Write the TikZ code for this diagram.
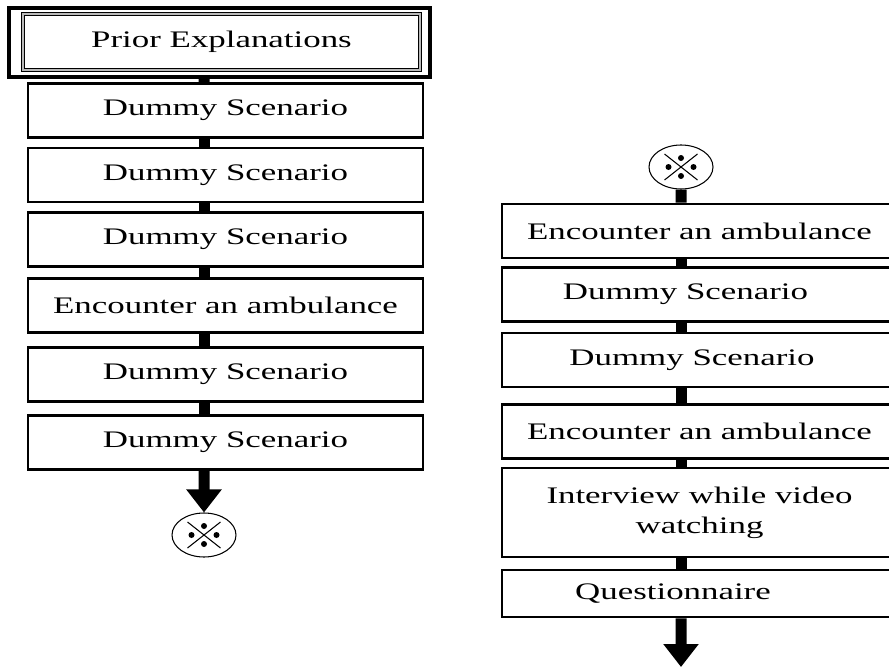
\documentclass[tikz,border=0pt]{standalone}
\usepackage{fontspec}
\setmainfont{Liberation Serif}[FakeStretch=1.47]
\usetikzlibrary{shapes.geometric, arrows.meta, positioning}

\begin{document}
\begin{tikzpicture}[
    box/.style={rectangle, draw, line width=1.6pt, minimum width=7.9cm, minimum height=1.08cm, align=center, fill=white, inner sep=0pt, font=\fontsize{13.5}{17}\selectfont},
    outerbox/.style={rectangle, draw, line width=1.8pt, minimum width=8.42cm, minimum height=1.38cm},
    innerbox/.style={box, draw=black, line width=0.6pt, double=gray!55, double distance=0.8pt, minimum width=7.94cm, minimum height=1.12cm},
    link/.style={line width=0.22cm},
    arrow/.style={line width=0.22cm, -{Triangle[width=0.68cm,length=0.46cm]}},
    joint/.style={ellipse, draw, line width=0.6pt, minimum width=1.28cm, minimum height=0.88cm, inner sep=0pt},
    cross/.style={line width=0.6pt}
]
\clip (0,0) rectangle (17.78,-13.34);

% ===== LEFT COLUMN =====
\node[outerbox] (prior_frame) at (4.39,-0.85) {};
\node[innerbox] (prior) at (4.43,-0.84) {Prior Explanations};
\node[box] (dummy1) at (4.51,-2.21) {Dummy Scenario};
\node[box] (dummy2) at (4.51,-3.50) {Dummy Scenario};
\node[box] (dummy3) at (4.51,-4.79) {Dummy Scenario};
\node[box] (amb1) at (4.51,-6.11) {Encounter an ambulance};
\node[box] (dummy4) at (4.51,-7.49) {Dummy Scenario};
\node[box] (dummy5) at (4.51,-8.85) {Dummy Scenario};
\node[joint] (mark_a) at (4.08,-10.70) {};

% ===== RIGHT COLUMN =====
\node[joint] (mark_b) at (13.62,-3.34) {};
\node[box] (amb2) at (13.99,-4.62) {Encounter an ambulance};
\node[box] (dummy6) at (13.99,-5.89) {Dummy Scenario\hspace*{0.56cm}};
\node[box] (dummy7) at (13.99,-7.20) {Dummy Scenario\hspace*{0.3cm}};
\node[box] (amb3) at (13.99,-8.63) {Encounter an ambulance};
\node[box, minimum height=1.78cm] (interview) at (13.99,-10.25) {Interview while video\\watching};
\node[box, minimum height=0.94cm] (quest) at (13.99,-11.87) {Questionnaire\hspace*{1.06cm}};
\coordinate (end_b) at (13.62,-13.34);

% ===== CONNECTOR MARKS =====
\draw[cross] ([shift={(-0.33,-0.26)}]mark_a.center) -- ([shift={(0.33,0.26)}]mark_a.center);
\draw[cross] ([shift={(-0.33,0.26)}]mark_a.center) -- ([shift={(0.33,-0.26)}]mark_a.center);
\fill ([yshift=0.18cm]mark_a.center) circle (0.06) ([yshift=-0.18cm]mark_a.center) circle (0.06)
     ([xshift=-0.25cm]mark_a.center) circle (0.06) ([xshift=0.25cm]mark_a.center) circle (0.06);
\draw[cross] ([shift={(-0.33,-0.26)}]mark_b.center) -- ([shift={(0.33,0.26)}]mark_b.center);
\draw[cross] ([shift={(-0.33,0.26)}]mark_b.center) -- ([shift={(0.33,-0.26)}]mark_b.center);
\fill ([yshift=0.18cm]mark_b.center) circle (0.06) ([yshift=-0.18cm]mark_b.center) circle (0.06)
     ([xshift=-0.25cm]mark_b.center) circle (0.06) ([xshift=0.25cm]mark_b.center) circle (0.06);

% ===== LINKS: left column =====
\draw[link] ([xshift=-0.31cm]prior_frame.south) -- ([xshift=-0.43cm]dummy1.north);
\draw[link] ([xshift=-0.43cm]dummy1.south) -- ([xshift=-0.43cm]dummy2.north);
\draw[link] ([xshift=-0.43cm]dummy2.south) -- ([xshift=-0.43cm]dummy3.north);
\draw[link] ([xshift=-0.43cm]dummy3.south) -- ([xshift=-0.43cm]amb1.north);
\draw[link] ([xshift=-0.43cm]amb1.south) -- ([xshift=-0.43cm]dummy4.north);
\draw[link] ([xshift=-0.43cm]dummy4.south) -- ([xshift=-0.43cm]dummy5.north);
\draw[arrow] ([xshift=-0.43cm]dummy5.south) -- (mark_a.north);

% ===== LINKS: right column =====
\draw[link] (mark_b.south) -- ([xshift=-0.37cm]amb2.north);
\draw[link] ([xshift=-0.37cm]amb2.south) -- ([xshift=-0.37cm]dummy6.north);
\draw[link] ([xshift=-0.37cm]dummy6.south) -- ([xshift=-0.37cm]dummy7.north);
\draw[link] ([xshift=-0.37cm]dummy7.south) -- ([xshift=-0.37cm]amb3.north);
\draw[link] ([xshift=-0.37cm]amb3.south) -- ([xshift=-0.37cm]interview.north);
\draw[link] ([xshift=-0.37cm]interview.south) -- ([xshift=-0.37cm]quest.north);
\draw[arrow] ([xshift=-0.37cm]quest.south) -- (end_b);

\end{tikzpicture}
\end{document}
